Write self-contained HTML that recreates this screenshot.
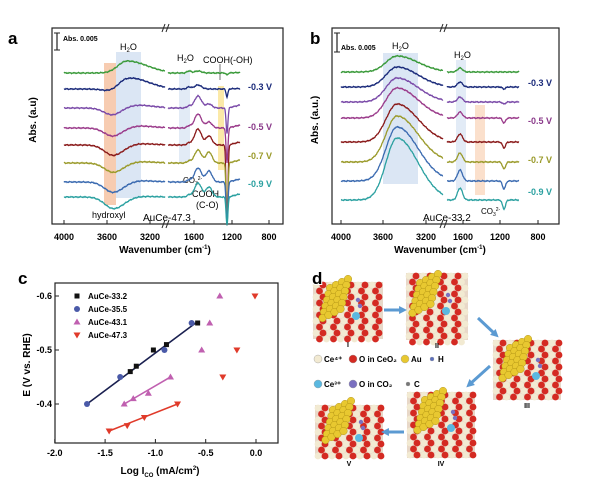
<!DOCTYPE html>
<html><head><meta charset="utf-8"><style>
body{margin:0;background:#fff}
svg{display:block;font-family:"Liberation Sans",Arial,sans-serif;font-weight:bold}
</style></head><body>
<svg id="s" width="600" height="486" viewBox="0 0 600 486" xmlns="http://www.w3.org/2000/svg">
<g id="pa">
 <text x="8" y="44" font-size="17">a</text>
 <rect x="104" y="63" width="12" height="142" fill="#f6c6a8" opacity="0.9"/>
 <rect x="116" y="52" width="25" height="146" fill="#dbe6f4"/>
 <rect x="179" y="72" width="11" height="90" fill="#e2ebf6"/>
 <rect x="218" y="86" width="6" height="84" fill="#fbe9a8"/>
 <rect x="52" y="28" width="231" height="196" fill="none" stroke="#222" stroke-width="1.2"/>
 <line x1="57" y1="33" x2="57" y2="50" stroke="#222" stroke-width="1.2"/><line x1="54" y1="33" x2="60" y2="33" stroke="#222"/><line x1="54" y1="50" x2="60" y2="50" stroke="#222"/>
 <text x="63" y="41" font-size="7">Abs. 0.005</text>
 <text x="120" y="50" font-size="9" font-weight="normal">H<tspan font-size="6" dy="2">2</tspan><tspan dy="-2">O</tspan></text>
 <text x="177" y="61" font-size="9" font-weight="normal">H<tspan font-size="6" dy="2">2</tspan><tspan dy="-2">O</tspan></text>
 <text x="203" y="63" font-size="9" font-weight="normal">COOH(-OH)</text>
 <line x1="220" y1="64" x2="220" y2="80" stroke="#333" stroke-width="0.7"/>
 <text x="92" y="218" font-size="9" font-weight="normal">hydroxyl</text>
 <text x="183" y="183" font-size="8" font-weight="normal">CO<tspan font-size="5" dy="2">3</tspan><tspan font-size="5" dy="-5">2-</tspan></text>
 <text x="192" y="197" font-size="9" font-weight="normal">COOH</text>
 <text x="196" y="208" font-size="9" font-weight="normal">(C-O)</text>
 <text x="143" y="221" font-size="10" font-weight="normal">AuCe-47.3</text>
 <text x="248" y="90" font-size="9" fill="#1a2a7a">-0.3 V</text>
 <text x="248" y="130" font-size="9" fill="#8a3a8a">-0.5 V</text>
 <text x="248" y="159" font-size="9" fill="#9a9a2a">-0.7 V</text>
 <text x="248" y="187" font-size="9" fill="#2aa0a0">-0.9 V</text>
 <g font-size="9">
  <text x="64" y="240" text-anchor="middle">4000</text><text x="107" y="240" text-anchor="middle">3600</text><text x="150" y="240" text-anchor="middle">3200</text>
  <text x="194" y="240" text-anchor="middle">1600</text><text x="232" y="240" text-anchor="middle">1200</text><text x="269" y="240" text-anchor="middle">800</text>
 </g>
 <text x="165" y="253" font-size="10" text-anchor="middle">Wavenumber (cm<tspan font-size="6" dy="-4">-1</tspan><tspan dy="4">)</tspan></text>
 <text transform="translate(36,120) rotate(-90)" font-size="10" text-anchor="middle">Abs. (a.u)</text>
</g>
<g id="pb">
 <text x="310" y="44" font-size="17">b</text>
 <rect x="383" y="53" width="35" height="131" fill="#dbe6f4"/>
 <rect x="456" y="60" width="10" height="130" fill="#e2ebf6"/>
 <rect x="475" y="105" width="10" height="90" fill="#fbe0cc"/>
 <rect x="332" y="28" width="227" height="196" fill="none" stroke="#222" stroke-width="1.2"/>
 <line x1="337" y1="33" x2="337" y2="52" stroke="#222" stroke-width="1.2"/><line x1="334" y1="33" x2="340" y2="33" stroke="#222"/><line x1="334" y1="52" x2="340" y2="52" stroke="#222"/>
 <text x="341" y="50" font-size="7">Abs. 0.005</text>
 <text x="392" y="49" font-size="9" font-weight="normal">H<tspan font-size="6" dy="2">2</tspan><tspan dy="-2">O</tspan></text>
 <text x="454" y="58" font-size="9" font-weight="normal">H<tspan font-size="6" dy="2">2</tspan><tspan dy="-2">O</tspan></text>
 <text x="481" y="214" font-size="8" font-weight="normal">CO<tspan font-size="5" dy="2">3</tspan><tspan font-size="5" dy="-5">2-</tspan></text>
 <text x="423" y="221" font-size="10" font-weight="normal">AuCe-33.2</text>
 <text x="528" y="86" font-size="9" fill="#1a2a7a">-0.3 V</text>
 <text x="528" y="124" font-size="9" fill="#8a3a8a">-0.5 V</text>
 <text x="528" y="163" font-size="9" fill="#9a9a2a">-0.7 V</text>
 <text x="528" y="195" font-size="9" fill="#2aa0a0">-0.9 V</text>
 <g font-size="9">
  <text x="341" y="240" text-anchor="middle">4000</text><text x="383" y="240" text-anchor="middle">3600</text><text x="426" y="240" text-anchor="middle">3200</text>
  <text x="463" y="240" text-anchor="middle">1600</text><text x="500" y="240" text-anchor="middle">1200</text><text x="538" y="240" text-anchor="middle">800</text>
 </g>
 <text x="440" y="253" font-size="10" text-anchor="middle">Wavenumber (cm<tspan font-size="6" dy="-4">-1</tspan><tspan dy="4">)</tspan></text>
 <text transform="translate(318,120) rotate(-90)" font-size="10" text-anchor="middle">Abs. (a.u.)</text>
</g>
<g id="pc">
 <text x="18" y="284" font-size="17">c</text>
 <rect x="55" y="283" width="223" height="160" fill="none" stroke="#222" stroke-width="1.2"/>
 <text transform="translate(30,365) rotate(-90)" font-size="10" text-anchor="middle">E (V vs. RHE)</text>
 <text x="160" y="474" font-size="10" text-anchor="middle">Log I<tspan font-size="6" dy="3">CO</tspan><tspan dy="-3"> (mA/cm</tspan><tspan font-size="6" dy="-4">2</tspan><tspan dy="4">)</tspan></text>
</g>
<g id="pd">
</g>
</svg>
<script>
const NS="http://www.w3.org/2000/svg";
const svg=document.getElementById('s');
function mk(t,a,p){const e=document.createElementNS(NS,t);for(const k in a)e.setAttribute(k,a[k]);(p||svg).appendChild(e);return e;}
const colors=["#3a9a3a","#1a2a7a","#7a4aa8","#9a3a8a","#8a1a1a","#9a9a2a","#3a6ab0","#2aa0a0"];
// Panel a spectral amplitudes (px)
const aBase=[73,89,108,128,145,163,182,197];
const aWater=[12,12,4,3,2,2,2,1];
const aHydroxyl=[0,3,8,9,11,10,11,12];
const aPeak1500=[2,4,12,14,16,13,14,14];
const aPeak1400=[0,0,4,6,9,11,11,10];
const aDip1240=[2,8,25,35,80,60,42,28];
// Panel b spectral amplitudes
const bBase=[72,87,102,118,142,162,181,200];
const bWater=[16,20,24,30,38,46,54,62];
const bPeak1640=[4,5,5,6,8,9,11,12];
const bDip1220=[0,2,2,5,6,7,8,9];
function g(x,c,s){return Math.exp(-((x-c)*(x-c))/(2*s*s));}
function noise(i,x){return 0.6*Math.sin(x*2.7+i*5.1)*Math.sin(x*1.3+i);}
const pa=document.getElementById('pa'), pb=document.getElementById('pb');
for(let i=0;i<8;i++){
  let d="";
  for(let x=64;x<=165;x+=0.5){
    const w=aWater[i]*(x<127?g(x,127,9):g(x,127,20));
    const h=aHydroxyl[i]*(x<114?g(x,114,9):g(x,114,11));
    const y=aBase[i]-w+h+noise(i,x);
    d+=(x==64?"M":"L")+x+","+y.toFixed(1);
  }
  const p=mk('path',{d:d,fill:"none",stroke:colors[i],"stroke-width":1.3},pa);
  
  
  d="";
  for(let x=168;x<=240;x+=0.5){
    const y=aBase[i]-aPeak1500[i]*g(x,198,3.5)-aPeak1400[i]*g(x,209,3)-2*g(x,189,2)
      +aDip1240[i]*g(x,227,0.9)-(x>228?(x-228)*0.25*(i>1?1:0.2):0)+noise(i,x);
    d+=(x==168?"M":"L")+x+","+y.toFixed(1);
  }
  const q=mk('path',{d:d,fill:"none",stroke:colors[i],"stroke-width":1.3},pa);
  
  
  d="";
  for(let x=341;x<=443;x+=0.5){
    const y=bBase[i]-bWater[i]*(x<397?g(x,397,11):g(x,397,21))+noise(i,x);
    d+=(x==341?"M":"L")+x+","+y.toFixed(1);
  }
  const r=mk('path',{d:d,fill:"none",stroke:colors[i],"stroke-width":1.3},pb);
  
  
  d="";
  for(let x=447;x<=519;x+=0.5){
    const y=bBase[i]-bPeak1640[i]*g(x,460,2.5)+bDip1220[i]*g(x,504,1.5)+noise(i,x);
    d+=(x==447?"M":"L")+x+","+y.toFixed(1);
  }
  const t=mk('path',{d:d,fill:"none",stroke:colors[i],"stroke-width":1.3},pb);
  
  
}
// break marks
[[165,"pa"],[443,"pb"]].forEach(([x,id])=>{const p=document.getElementById(id);
 [28,224].forEach(y=>{mk('path',{d:`M${x-3},${y+4}L${x},${y-4}M${x+1},${y+4}L${x+4},${y-4}`,stroke:"#222","stroke-width":1},p);});});
// tick marks a,b
[[64,107,150,194,232,269],[341,383,426,463,500,538]].forEach((arr,k)=>{const p=k?pb:pa;arr.forEach(x=>mk('line',{x1:x,y1:224,x2:x,y2:220,stroke:"#222"},p));});

// Panel c data
const cxTicks=[-2.0,-1.5,-1.0,-0.5,0.0];
const cyTicks=[-0.6,-0.5,-0.4];
const names=["AuCe-33.2","AuCe-35.5","AuCe-43.1","AuCe-47.3"];
const s332x=[-1.25,-1.19,-1.02,-0.89,-0.58];
const s332y=[-0.46,-0.47,-0.50,-0.51,-0.55];
const s355x=[-1.68,-1.35,-0.91,-0.64];
const s355y=[-0.40,-0.45,-0.50,-0.55];
const s431x=[-1.31,-1.22,-1.07,-0.85,-0.54,-0.46,-0.36];
const s431y=[-0.40,-0.41,-0.42,-0.45,-0.50,-0.55,-0.60];
const s473x=[-1.46,-1.28,-1.11,-0.78,-0.33,-0.19,-0.01];
const s473y=[-0.35,-0.36,-0.375,-0.40,-0.45,-0.50,-0.60];
const fitBlack=[[-1.68,-0.40],[-0.60,-0.55]];
const fitPink=[[-1.31,-0.40],[-0.85,-0.45]];
const fitRed=[[-1.46,-0.35],[-0.78,-0.40]];
const X=v=>256+v*100.6, Y=v=>350+(v+0.5)*540;
const pc=document.getElementById('pc');
cxTicks.forEach(v=>{mk('line',{x1:X(v),y1:443,x2:X(v),y2:439,stroke:"#222"},pc);
 const t=mk('text',{x:X(v),y:456,"font-size":9,"text-anchor":"middle"},pc);t.textContent=v.toFixed(1);
 
 });
cyTicks.forEach(v=>{mk('line',{x1:55,y1:Y(v),x2:59,y2:Y(v),stroke:"#222"},pc);
 const t=mk('text',{x:52,y:Y(v)+3,"font-size":9,"text-anchor":"end"},pc);t.textContent=v.toFixed(1);
 
 });
[[fitBlack,"#1a2050"],[fitPink,"#c060b0"],[fitRed,"#e03a2a"]].forEach(([f,c])=>{
 const l=mk('line',{x1:X(f[0][0]),y1:Y(f[0][1]),x2:X(f[1][0]),y2:Y(f[1][1]),stroke:c,"stroke-width":1.6},pc);
 
 });
function marker(type,x,y,c,p){
 if(type==0)return mk('rect',{x:x-2.5,y:y-2.5,width:5,height:5,fill:c},p);
 if(type==1)return mk('circle',{cx:x,cy:y,r:3,fill:c},p);
 if(type==2)return mk('path',{d:`M${x},${y-3.5}L${x+3.5},${y+2.5}L${x-3.5},${y+2.5}Z`,fill:c},p);
 return mk('path',{d:`M${x},${y+3.5}L${x+3.5},${y-2.5}L${x-3.5},${y-2.5}Z`,fill:c},p);}
const mcol=["#111","#4a5aa8","#c060b0","#e03a2a"];
[[s332x,s332y],[s355x,s355y],[s431x,s431y],[s473x,s473y]].forEach(([xs,ys],k)=>{
 xs.forEach((v,j)=>{const m=marker(k,X(v),Y(ys[j]),mcol[k],pc);
  
  });
 const lm=marker(k,77,296+k*13,mcol[k],pc);
 
 
 const lt=mk('text',{x:88,y:299+k*13,"font-size":8},pc);lt.textContent=names[k];
 
 
});

// Panel d atom scenes
const pd=document.getElementById('pd');
function scene(x0,y0,w,h,label,goldCx,goldCy){
 const g0=mk('g',{},pd);
 
 
 mk('rect',{x:x0,y:y0,width:w,height:h,fill:"#e8d8c8"},g0);
 for(let r=0;r*6<h;r++)for(let c=0;c*7<w;c++){
  const cx=x0+3+c*7+(r%2)*3.5,cy=y0+3+r*6;if(cx>x0+w-2)continue;
  mk('circle',{cx:cx,cy:cy,r:3.4,fill:(r+c)%2?"#d42a22":"#f2ead2"},g0);}
 for(let r=0;r<6;r++)for(let c=0;c<4;c++)
  mk('circle',{cx:goldCx+c*6-r*1.5,cy:goldCy+r*6-c*3,r:3.8,fill:"#e8c830",stroke:"#a88a10","stroke-width":0.4},g0);
 mk('circle',{cx:goldCx+26,cy:goldCy+28,r:4,fill:"#5ab8e0"},g0);
 mk('circle',{cx:goldCx+28,cy:goldCy+12,r:2.2,fill:"#7a70c0"},g0);
 mk('circle',{cx:goldCx+30,cy:goldCy+18,r:2.2,fill:"#7a70c0"},g0);
 const t=mk('text',{x:x0+w/2,y:y0+h+8,"font-size":7,"text-anchor":"middle"},g0);t.textContent=label;
}
scene(313,282,70,57,"I",330,288);
scene(406,273,62,67,"II",420,283);
scene(493,340,68,60,"III",510,348);
scene(407,392,68,66,"IV",425,400);
scene(315,405,68,53,"V",333,410);
// arrows
[[384,310,402,310],[478,318,495,334],[490,366,470,384],[404,432,386,432]].forEach(a=>{
 const l=mk('line',{x1:a[0],y1:a[1],x2:a[2],y2:a[3],stroke:"#5b9ad2","stroke-width":3},pd);
 
 
 const ang=Math.atan2(a[3]-a[1],a[2]-a[0]);
 const hx=a[2]+5*Math.cos(ang),hy=a[3]+5*Math.sin(ang);
 mk('path',{d:`M${hx},${hy}L${a[2]+5*Math.cos(ang+2.2)},${a[3]+5*Math.sin(ang+2.2)}L${a[2]+5*Math.cos(ang-2.2)},${a[3]+5*Math.sin(ang-2.2)}Z`,fill:"#5b9ad2"},pd);});
// legend d
const leg=[[318,362,"#f2ead2","Ce⁴⁺"],[353,362,"#d42a22","O in CeO₂"],[405,362,"#e8c830","Au"],[432,362,"#5a70c0","H"],
 [318,387,"#5ab8e0","Ce³⁺"],[353,387,"#7a70c0","O in CO₂"],[408,387,"#777","C"]];
leg.forEach(([x,y,c,t])=>{mk('circle',{cx:x,cy:y-3,r:t=="H"||t=="C"?2:4,fill:c,stroke:"#999","stroke-width":0.4},pd);
 const e=mk('text',{x:x+6,y:y,"font-size":8},pd);e.textContent=t;
 
 });
const dl=mk('text',{x:312,y:284,"font-size":17,fill:"#000",stroke:"#fff","stroke-width":2,"paint-order":"stroke"},pd);
dl.textContent="d";


</script>
</body></html>
